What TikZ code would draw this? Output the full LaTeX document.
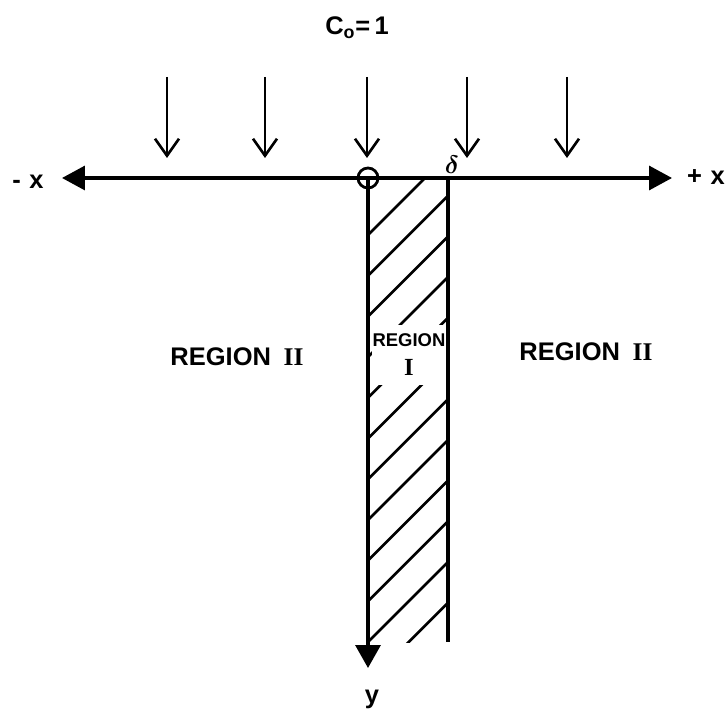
\documentclass[tikz,border=0pt]{standalone}
\usepackage{fontspec}
\usepackage{tikz}
\usetikzlibrary{arrows.meta}
\newfontfamily\letfont{Liberation Sans Bold}
\newfontfamily\romfont{Liberation Serif Bold}

\begin{document}
\begin{tikzpicture}[x=0.02cm, y=-0.02cm,
	axis/.style={line width=1.9pt},
	flux/.style={line width=1.5pt, -{Straight Barb[length=3.4mm, width=4.8mm, line width=1.5pt]}},
	hatch/.style={line width=1.5pt},
	lbl/.style={font=\letfont\fontsize{14.5}{16}\selectfont, inner sep=1pt},
	lblsmall/.style={font=\letfont\fontsize{10.5}{16.5}\selectfont, align=center}]
	\useasboundingbox (0,0) rectangle (727,712);
	% points on the axes
	\coordinate (O) at (368,178);
	\coordinate (xneg) at (62,178);
	\coordinate (xpos) at (672,178);
	\coordinate (yend) at (368,668);
	\coordinate (stripT) at (448,178);
	\coordinate (stripB) at (448,642);
	% hatching of region I
	\begin{scope}
		\clip (368,178) rectangle (448,642);
		\foreach \k in {0,...,11} {\draw[hatch] (448,155+40.7*\k) -- ++(-100,100);}
	\end{scope}
	\node[lblsmall, fill=white, inner sep=0pt, minimum width=1.5cm, minimum height=1.2cm] (regone) at (409,355) {REGION\\{\romfont\fontsize{14}{14}\selectfont I}};
	% axes and strip
	\draw[axis, {Triangle[length=4.6mm, width=4.8mm]}-{Triangle[length=4.6mm, width=4.8mm]}] (xneg) -- (xpos);
	\draw[axis, -{Triangle[length=4.6mm, width=5mm]}] (O) -- (yend);
	\draw[axis] (stripT) -- (stripB);
	\node[draw, circle, minimum size=0.4cm, inner sep=0pt, line width=1.6pt] (orig) at (O) {};
	\node[font=\fontsize{15}{15}\selectfont\boldmath, inner sep=0pt] (delta) at (452,165) {$\delta$};
	% incoming flux
	\foreach \x [count=\i] in {167,265,367,467,567} {
		\coordinate (f\i) at (\x,77);
		\coordinate (g\i) at (\x,158);
		\draw[flux] (f\i) -- (g\i);
	}
	% labels
	\node[lbl] (conc) at (357,28) {C\textsubscript{o}=\,1};
	\node[lbl] (xminus) at (28,182) {-\,\,x};
	\node[lbl] (xplus) at (706,177) {+\,\,x};
	\node[lbl] (ylab) at (372,699) {y};
	\node[lbl] (regleft) at (237,357) {REGION\enspace{\romfont II}};
	\node[lbl] (regright) at (586,352) {REGION\enspace{\romfont II}};
\end{tikzpicture}
\end{document}
